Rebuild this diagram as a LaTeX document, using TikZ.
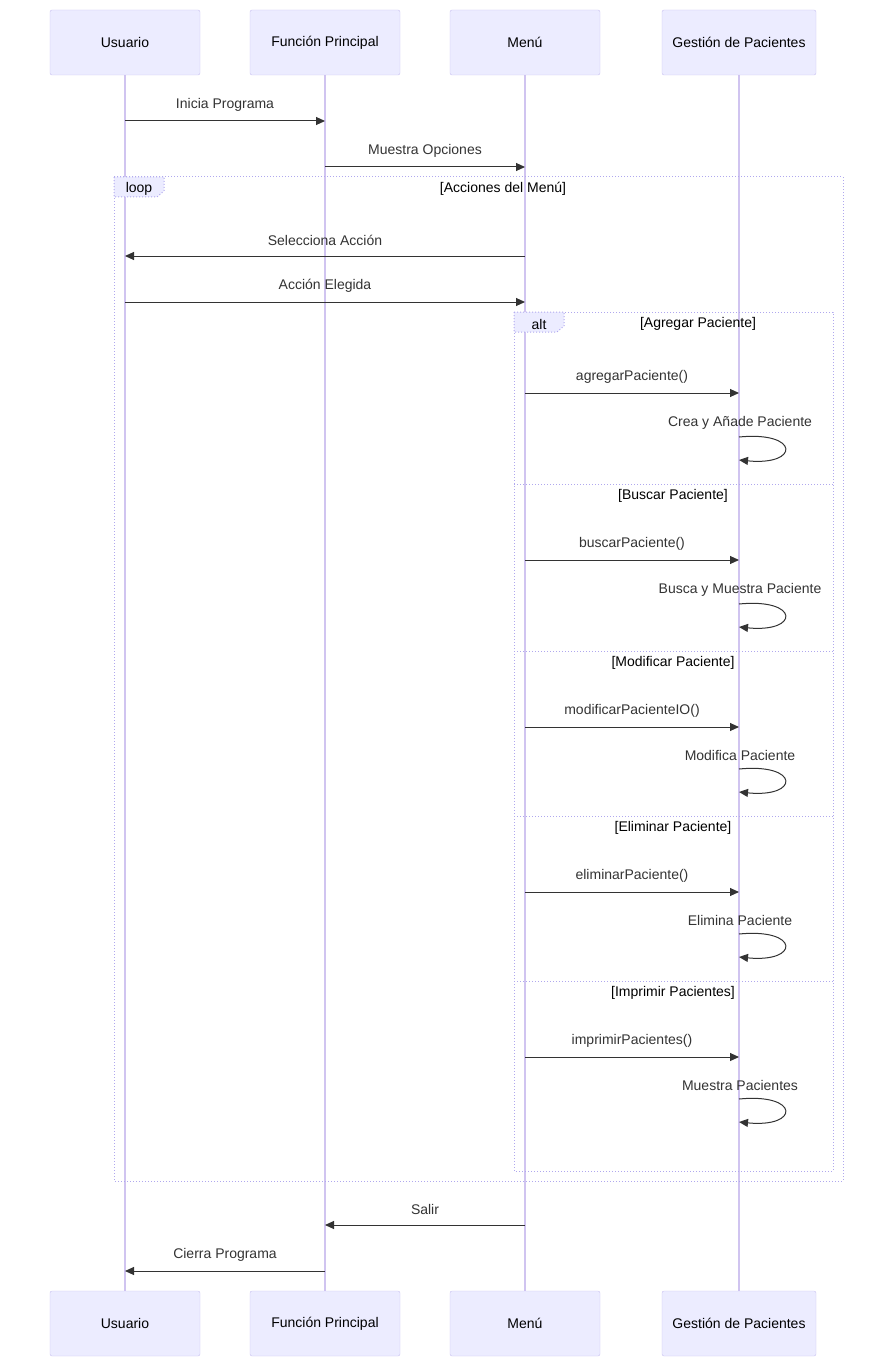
\documentclass[tikz,border=0pt]{standalone}
\usepackage{fontspec}
\setmainfont{Liberation Sans}
\usetikzlibrary{arrows.meta}
\definecolor{boxfill}{HTML}{ECECFF}
\definecolor{boxline}{HTML}{C8C0F0}
\definecolor{life}{HTML}{D0C4F0}
\definecolor{frameline}{HTML}{B0A8EE}
\definecolor{txt}{HTML}{333333}
\tikzset{
  x=1pt,y=-1pt,
  actor/.style={draw=boxline,fill=boxfill,rounded corners=2pt,minimum height=65pt,font=\fontsize{14}{16}\selectfont,text=black,inner sep=0pt},
  lifeline/.style={draw=life,line width=1.6pt},
  msg/.style={draw=txt,line width=1pt,-{Triangle[length=9pt,width=8pt]}},
  lbl/.style={font=\fontsize{14}{16}\selectfont,text=txt},
  frm/.style={draw=frameline,dotted,line width=1pt},
  cond/.style={font=\fontsize{14}{16}\selectfont,text=black}
}
\begin{document}
\begin{tikzpicture}
\useasboundingbox (0,0) rectangle (893,1367);
\foreach \n/\x/\w/\t in {u/125/150/Usuario,f/325/150/Función Principal,m/525/150/Menú,g/739/154/Gestión de Pacientes}{
  \draw[lifeline] (\x,75) -- (\x,1291);
  \node[actor,minimum width=\w pt] (\n top) at (\x,42.5) {\t};
  \node[actor,minimum width=\w pt] (\n bot) at (\x,1323.5) {\t};
}
% frames
\draw[frm] (114,177) rectangle (843,1181);
\draw[frm,fill=boxfill] (114,177) -- (164,177) -- (164,191) -- (157,197) -- (114,197) -- cycle;
\node[cond] (looplbl) at (139,189) {loop};
\node[cond] (loopcond) at (503,189) {[Acciones del Menú]};
\draw[frm] (514,312) rectangle (833,1171);
\draw[frm,fill=boxfill] (514,312) -- (564,312) -- (564,326) -- (557,332) -- (514,332) -- cycle;
\node[cond] (altlbl) at (539,324) {alt};
\node[cond] (c1) at (698,324) {[Agregar Paciente]};
\foreach \y/\t/\c in {484/Buscar Paciente/c2,651/Modificar Paciente/c3,816/Eliminar Paciente/c4,981/Imprimir Pacientes/c5}{
  \draw[frm] (514,\y) -- (833,\y);
  \node[cond] (\c) at (673,\y+12) {[\t]};
}
% messages
\foreach \a/\b/\y/\t in {125/325/121/Inicia Programa,325/525/167/Muestra Opciones,525/125/256/Selecciona Acción,125/525/302/Acción Elegida,525/739/393/agregarPaciente(),525/739/560/buscarPaciente(),525/739/727/modificarPacienteIO(),525/739/892/eliminarPaciente(),525/739/1057/imprimirPacientes(),525/325/1225/Salir,325/125/1271/Cierra Programa}{
  \coordinate (s) at (\a,\y); \coordinate (e) at (\b,\y);
  \draw[msg] (s) -- (e);
  \node[lbl] (l) at ({(\a+\b)/2},\y-16) {\t};
}
\foreach \y/\t in {437/Crea y Añade Paciente,604/Busca y Muestra Paciente,769/Modifica Paciente,934/Elimina Paciente,1099/Muestra Pacientes}{
  \coordinate (s) at (739,\y); \coordinate (e) at (739,\y+23);
  \draw[msg] (s) .. controls (800,\y-6) and (800,\y+29) .. (e);
  \node[lbl] (l) at (740,\y-14) {\t};
}
\end{tikzpicture}
\end{document}
